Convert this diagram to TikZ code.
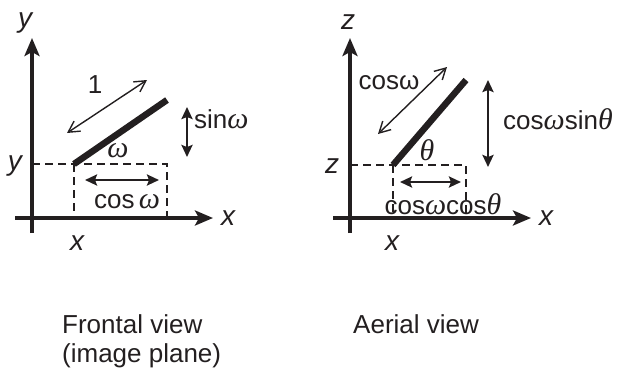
\documentclass[tikz,border=0pt]{standalone}
\usepackage{fontspec}
\setmainfont{Liberation Sans}
\newfontfamily\greekfont{Liberation Serif}[Scale=1.15]
\usetikzlibrary{arrows.meta}
\definecolor{fg}{HTML}{231F20}
\newcommand{\gom}{{\greekfont\itshape ω}}
\newcommand{\gth}{{\greekfont\itshape θ}}

\begin{document}
\begin{tikzpicture}[x=1pt, y=-1pt, fg,
    axis/.style={line width=3.8pt, -{Stealth[length=18pt, width=15pt, inset=4pt]}},
    rod/.style={line width=6.5pt},
    guide/.style={line width=2pt, dash pattern=on 8pt off 5pt},
    span/.style={line width=1.4pt, {Straight Barb[length=11pt, width=12pt]}-{Straight Barb[length=11pt, width=12pt]}},
    bigspan/.style={line width=2.4pt, {Stealth[length=12pt, width=11pt, inset=2pt]}-{Stealth[length=12pt, width=11pt, inset=2pt]}},
    lbl/.style={inner sep=0pt, font=\fontsize{26}{29}\selectfont},
    axlbl/.style={inner sep=0pt, font=\fontsize{28}{30}\selectfont\itshape}]
  \useasboundingbox (0,0) rectangle (621,368);

  % frontal view
  \coordinate (fO) at (32,218);
  \coordinate (fXend) at (213,218);
  \coordinate (fYend) at (32,38);
  \coordinate (fA) at (74,164);
  \coordinate (fB) at (167,100);
  \draw[axis] (15,218) -- (fXend);
  \draw[axis] (32,233) -- (fYend);
  \draw[guide] (fO |- fA) -- (fA -| fB) -- (fB |- fO);
  \draw[guide] (fA) -- (fA |- fO);
  \draw[rod] (fA) -- (fB);
  \coordinate (fOneA) at (67,133);
  \coordinate (fOneB) at (147,80);
  \draw[span] (fOneA) -- (fOneB);
  \coordinate (fSinA) at (187,107);
  \coordinate (fSinB) at (187,157);
  \draw[bigspan] (fSinA) -- (fSinB);
  \coordinate (fCosA) at (85,180);
  \coordinate (fCosB) at (159,180);
  \draw[bigspan] (fCosA) -- (fCosB);
  \node[axlbl] (fYtop) at (25,23) {y};
  \node[axlbl] (fXright) at (228,218) {x};
  \node[axlbl] (fXbelow) at (77,243) {x};
  \node[axlbl] (fYleft) at (15,166) {y};
  \node[lbl] (fOne) at (95,85) {1};
  \node[lbl, anchor=west] (fSin) at (194,119) {sin\gom};
  \node[lbl] (fOmega) at (118,151) {\gom};
  \node[lbl] (fCos) at (127,202) {cos\,\gom};
  \node[lbl, anchor=base west] (fTitle) at (62,333) {Frontal view};
  \node[lbl, anchor=base west] (fSub) at (62,362) {(image plane)};

  % aerial view
  \coordinate (aO) at (350,218);
  \coordinate (aXend) at (531,218);
  \coordinate (aZend) at (350,38);
  \coordinate (aA) at (393,165);
  \coordinate (aB) at (466,80);
  \draw[axis] (333,218) -- (aXend);
  \draw[axis] (350,233) -- (aZend);
  \draw[guide] (aO |- aA) -- (aA -| aB) -- (aB |- aO);
  \draw[guide] (aA) -- (aA |- aO);
  \draw[rod] (aA) -- (aB);
  \coordinate (aCwA) at (378,134);
  \coordinate (aCwB) at (447,67);
  \draw[span] (aCwA) -- (aCwB);
  \coordinate (aSinA) at (488,80);
  \coordinate (aSinB) at (488,167);
  \draw[bigspan] (aSinA) -- (aSinB);
  \coordinate (aCosA) at (400,182);
  \coordinate (aCosB) at (461,182);
  \draw[bigspan] (aCosA) -- (aCosB);
  \node[axlbl] (aZtop) at (348,22) {z};
  \node[axlbl] (aXright) at (546,218) {x};
  \node[axlbl] (aXbelow) at (392,243) {x};
  \node[axlbl] (aZleft) at (332,166) {z};
  \node[lbl] (aCw) at (389,83) {cosω};
  \node[lbl, anchor=west] (aSin) at (503,119) {cos\gom sin\gth};
  \node[lbl] (aTheta) at (427,150) {\gth};
  \node[lbl] (aCos) at (443,204) {cos\gom cos\gth};
  \node[lbl, anchor=base west] (aTitle) at (353,333) {Aerial view};
\end{tikzpicture}
\end{document}
